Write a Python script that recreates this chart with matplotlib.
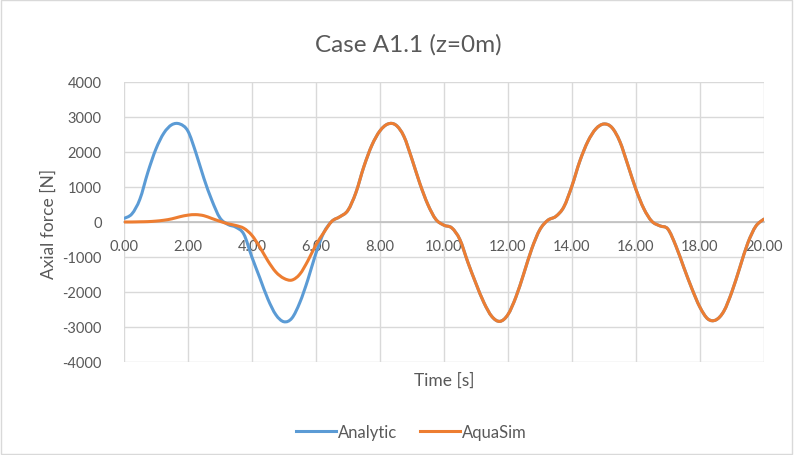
import numpy as np
import matplotlib
matplotlib.use('Agg')
import matplotlib.pyplot as plt
from matplotlib.patches import Rectangle, PathPatch
from matplotlib.path import Path
from matplotlib.lines import Line2D

plt.rcParams['font.family'] = ['Lato', 'DejaVu Sans']

# time axis [s], every 0.25 s
time = np.arange(0, 20.01, 0.25)

# Analytic axial force [N]
analytic = [
    100, 230, 650, 1420, 2080, 2540, 2780, 2800, 2600, 1980, 1250, 620,
    120, -70, -150, -350, -1000, -1600, -2200, -2650, -2850, -2750, -2300,
    -1650, -900, -300, 20,
    150, 330, 835, 1580, 2190, 2600, 2800, 2770, 2450, 1805, 1100, 500,
    75, -90, -170, -500, -1150, -1750, -2300, -2700, -2840, -2650, -2150,
    -1470, -760, -220, 50,
    160, 430, 1020, 1740, 2300, 2660, 2800, 2700, 2300, 1630, 940, 380,
    20, -110, -200, -680, -1300, -1900, -2430, -2770, -2800, -2550, -2000,
    -1300, -600, -120, 80,
]

# AquaSim result [N]; ramps up over the first cycle, then follows the analytic curve
aquasim_start = [
    0, 0, 5, 10, 25, 50, 90, 150, 195, 210, 180, 100, 20, -50, -100, -180,
    -380, -720, -1110, -1430, -1610, -1660, -1490, -1110, -660,
]
aquasim = aquasim_start + analytic[len(aquasim_start):]

x_ticks = np.arange(0, 21, 2)
y_ticks = np.arange(-4000, 4001, 1000)

txt = '#595959'
grid_c = '#d9d9d9'
blue = '#5b9bd5'
orange = '#ed7d31'


def smooth_path(x, y):
    # Excel-style smoothed line: cubic bezier segments through the data points
    p = np.column_stack([x, y]).astype(float)
    p_ext = np.vstack([p[0], p, p[-1]])
    verts = [p[0]]
    codes = [Path.MOVETO]
    for i in range(len(p) - 1):
        p0, p1, p2, p3 = p_ext[i], p_ext[i + 1], p_ext[i + 2], p_ext[i + 3]
        verts += [p1 + (p2 - p0) / 6, p2 - (p3 - p1) / 6, p2]
        codes += [Path.CURVE4] * 3
    return Path(verts, codes)


fig = plt.figure(figsize=(7.94, 4.56), dpi=100)
ax = fig.add_axes([0.156, 0.204, 0.806, 0.614])

for series, col in [(analytic, blue), (aquasim, orange)]:
    ax.add_patch(PathPatch(smooth_path(time, series), facecolor='none', edgecolor=col,
                           lw=2.2, capstyle='round', joinstyle='round', zorder=3))

ax.set_xlim(0, 20)
ax.set_ylim(-4000, 4000)
ax.set_xticks(x_ticks)
ax.set_xticklabels([f'{v:.2f}' for v in x_ticks])
ax.set_yticks(y_ticks)
ax.set_yticklabels([str(v) for v in y_ticks])
ax.grid(True, color=grid_c, lw=1)
ax.set_axisbelow(True)

for s in ['top', 'right', 'left']:
    ax.spines[s].set_visible(False)
ax.spines['bottom'].set_position(('data', 0))
ax.spines['bottom'].set_color('#bfbfbf')
ax.spines['bottom'].set_linewidth(1.2)
ax.spines['bottom'].set_zorder(1)
ax.tick_params(length=0, colors=txt, labelsize=10.5)
ax.tick_params(axis='x', pad=12)
ax.tick_params(axis='y', pad=16)

fig.text(0.514, 0.901, 'Case A1.1 (z=0m)', color=txt, fontsize=17.5, ha='center', va='center')
fig.text(0.559, 0.165, 'Time [s]', color=txt, fontsize=12.5, ha='center', va='center')
fig.text(0.061, 0.51, 'Axial force [N]', color=txt, fontsize=12.5, ha='center', va='center',
         rotation=90)

handles = [Line2D([], [], color=blue, lw=2.2), Line2D([], [], color=orange, lw=2.2)]
fig.legend(handles, ['Analytic', 'AquaSim'], loc='center', bbox_to_anchor=(0.518, 0.05),
           ncol=2, frameon=False, fontsize=12, labelcolor=txt, handlelength=2.4,
           handletextpad=0.15, columnspacing=1.35)

fig.patches.append(Rectangle((0.001, 0.002), 0.997, 0.995, transform=fig.transFigure,
                             fill=False, edgecolor=grid_c, lw=1))

fig.savefig('out.png', dpi=100)
